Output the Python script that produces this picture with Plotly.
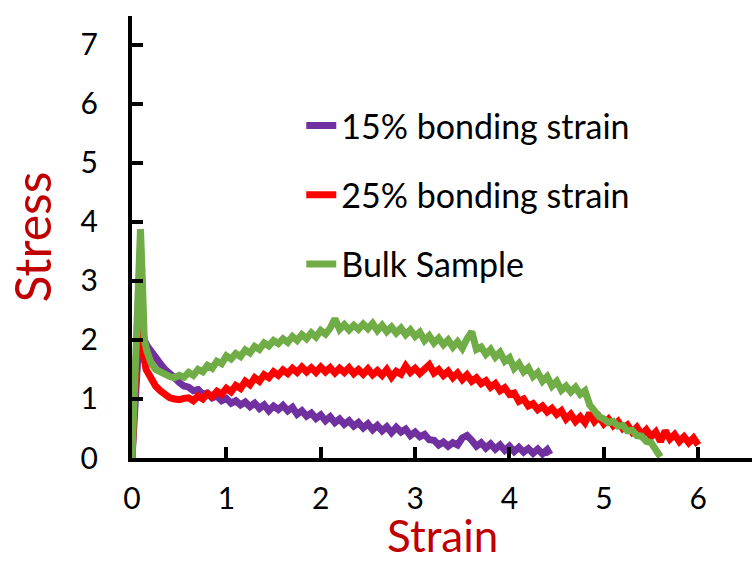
import plotly.graph_objects as go

# ---- data ----
purple_x = [0, 0.03, 0.06, 0.09, 0.11, 0.13, 0.16, 0.20, 0.25, 0.30, 0.35, 0.40, 0.45, 0.50, 0.55,
            0.60, 0.65, 0.70, 0.75, 0.80, 0.85, 0.90, 0.95, 1.00, 1.05, 1.10, 1.15, 1.20, 1.25, 1.30,
            1.35, 1.40, 1.45, 1.50, 1.55, 1.60, 1.65, 1.70, 1.75, 1.80, 1.85, 1.90, 1.95, 2.00, 2.05,
            2.10, 2.15, 2.20, 2.25, 2.30, 2.35, 2.40, 2.45, 2.50, 2.55, 2.60, 2.65, 2.70, 2.75, 2.80,
            2.85, 2.90, 2.95, 3.00, 3.05, 3.10, 3.15, 3.20, 3.25, 3.30, 3.35, 3.40, 3.45, 3.50, 3.55,
            3.60, 3.65, 3.70, 3.75, 3.80, 3.85, 3.90, 3.95, 4.00, 4.05, 4.10, 4.15, 4.20, 4.25, 4.30,
            4.35, 4.40, 4.43]
purple_y = [0, 1.0, 2.0, 2.5, 2.2, 2.0, 1.9, 1.8, 1.68, 1.6, 1.5, 1.44, 1.36, 1.28, 1.22,
            1.20, 1.14, 1.16, 1.08, 1.10, 1.02, 1.05, 0.97, 1.01, 0.93, 0.97, 0.90, 0.95, 0.87, 0.93,
            0.84, 0.90, 0.80, 0.88, 0.82, 0.89, 0.80, 0.86, 0.74, 0.80, 0.71, 0.76, 0.67, 0.73, 0.63,
            0.70, 0.60, 0.66, 0.57, 0.63, 0.54, 0.60, 0.51, 0.58, 0.48, 0.55, 0.46, 0.53, 0.43, 0.52,
            0.44, 0.49, 0.38, 0.44, 0.36, 0.40, 0.31, 0.30, 0.22, 0.27, 0.20, 0.26, 0.22, 0.34, 0.38,
            0.30, 0.20, 0.26, 0.17, 0.24, 0.15, 0.22, 0.13, 0.20, 0.11, 0.18, 0.10, 0.16, 0.08, 0.15,
            0.07, 0.14, 0.06]

red_x = [0, 0.03, 0.06, 0.08, 0.10, 0.12, 0.15, 0.20, 0.25, 0.30, 0.35, 0.40, 0.45, 0.50, 0.55,
         0.60, 0.65, 0.70, 0.75, 0.80, 0.85, 0.90, 0.95, 1.00, 1.05, 1.10, 1.15, 1.20, 1.25, 1.30,
         1.35, 1.40, 1.45, 1.50, 1.55, 1.60, 1.65, 1.70, 1.75, 1.80, 1.85, 1.90, 1.95, 2.00, 2.05,
         2.10, 2.15, 2.20, 2.25, 2.30, 2.35, 2.40, 2.45, 2.50, 2.55, 2.60, 2.65, 2.70, 2.75, 2.80,
         2.85, 2.90, 2.95, 3.00, 3.05, 3.10, 3.15, 3.20, 3.25, 3.30, 3.35, 3.40, 3.45, 3.50, 3.55,
         3.60, 3.65, 3.70, 3.75, 3.80, 3.85, 3.90, 3.95, 4.00, 4.05, 4.10, 4.15, 4.20, 4.25, 4.30,
         4.35, 4.40, 4.45, 4.50, 4.55, 4.60, 4.65, 4.70, 4.75, 4.80, 4.85, 4.90, 4.95, 5.00, 5.05,
         5.10, 5.15, 5.20, 5.25, 5.30, 5.35, 5.40, 5.45, 5.50, 5.55, 5.60, 5.65, 5.70, 5.75, 5.80,
         5.85, 5.90, 5.95, 6.00]
red_y = [0, 1.2, 2.6, 3.05, 2.6, 1.75, 1.5, 1.33, 1.22, 1.14, 1.07, 1.02, 1.0, 0.99, 1.01,
         1.02, 0.97, 1.05, 1.00, 1.09, 1.04, 1.13, 1.08, 1.18, 1.12, 1.23, 1.18, 1.30, 1.24, 1.36,
         1.30, 1.41, 1.36, 1.46, 1.40, 1.49, 1.43, 1.52, 1.45, 1.54, 1.46, 1.53, 1.45, 1.54, 1.46,
         1.53, 1.44, 1.52, 1.45, 1.53, 1.43, 1.50, 1.42, 1.51, 1.41, 1.48, 1.40, 1.50, 1.37, 1.47,
         1.42, 1.56, 1.45, 1.52, 1.43, 1.52, 1.58, 1.44, 1.50, 1.40, 1.47, 1.36, 1.44, 1.33, 1.41,
         1.30, 1.36, 1.26, 1.31, 1.20, 1.26, 1.14, 1.19, 1.08, 1.10, 0.96, 1.00, 0.88, 0.92, 0.82,
         0.88, 0.78, 0.84, 0.74, 0.80, 0.66, 0.74, 0.62, 0.70, 0.60, 0.76, 0.62, 0.70, 0.58, 0.66,
         0.55, 0.62, 0.50, 0.56, 0.44, 0.52, 0.40, 0.48, 0.36, 0.44, 0.28, 0.46, 0.32, 0.40, 0.28,
         0.36, 0.26, 0.34, 0.22]

green_x = [0, 0.03, 0.06, 0.09, 0.11, 0.13, 0.16, 0.20, 0.25, 0.30, 0.35, 0.40, 0.45, 0.50, 0.55,
           0.60, 0.65, 0.70, 0.75, 0.80, 0.85, 0.90, 0.95, 1.00, 1.05, 1.10, 1.15, 1.20, 1.25, 1.30,
           1.35, 1.40, 1.45, 1.50, 1.55, 1.60, 1.65, 1.70, 1.75, 1.80, 1.85, 1.90, 1.95, 2.00, 2.05,
           2.10, 2.15, 2.20, 2.25, 2.30, 2.35, 2.40, 2.45, 2.50, 2.55, 2.60, 2.65, 2.70, 2.75, 2.80,
           2.85, 2.90, 2.95, 3.00, 3.05, 3.10, 3.15, 3.20, 3.25, 3.30, 3.35, 3.40, 3.45, 3.50, 3.55,
           3.60, 3.65, 3.70, 3.75, 3.80, 3.85, 3.90, 3.95, 4.00, 4.05, 4.10, 4.15, 4.20, 4.25, 4.30,
           4.35, 4.40, 4.45, 4.50, 4.55, 4.60, 4.65, 4.70, 4.75, 4.80, 4.85, 4.90, 4.95, 5.00, 5.05,
           5.10, 5.15, 5.20, 5.25, 5.30, 5.35, 5.40, 5.45, 5.50, 5.55, 5.60]
green_y = [0, 1.6, 3.2, 3.88, 3.0, 2.0, 1.8, 1.62, 1.5, 1.45, 1.40, 1.38, 1.36, 1.40, 1.37,
           1.45, 1.40, 1.50, 1.46, 1.57, 1.52, 1.64, 1.60, 1.73, 1.68, 1.77, 1.72, 1.83, 1.78, 1.89,
           1.84, 1.95, 1.90, 1.99, 1.94, 2.02, 1.96, 2.06, 1.99, 2.09, 2.02, 2.12, 2.05, 2.16, 2.10,
           2.20, 2.36, 2.18, 2.26, 2.17, 2.25, 2.18, 2.27, 2.19, 2.28, 2.16, 2.25, 2.14, 2.22, 2.12,
           2.20, 2.09, 2.17, 2.06, 2.13, 1.99, 2.07, 1.95, 2.03, 1.92, 2.00, 1.88, 1.97, 1.86, 2.02,
           2.14, 1.84, 1.88, 1.76, 1.84, 1.71, 1.79, 1.64, 1.70, 1.52, 1.60, 1.46, 1.53, 1.38, 1.45,
           1.30, 1.38, 1.22, 1.30, 1.15, 1.22, 1.12, 1.20, 1.08, 1.14, 0.90, 0.80, 0.70, 0.66, 0.60,
           0.62, 0.54, 0.55, 0.46, 0.47, 0.38, 0.37, 0.28, 0.26, 0.15, 0.02]

names = ["15% bonding strain", "25% bonding strain", "Bulk Sample"]
colors = ["#7030A0", "#FF0000", "#70AD47"]
x_ticks = [0, 1, 2, 3, 4, 5, 6]
y_ticks = [0, 1, 2, 3, 4, 5, 6, 7]

FONT = "Lato, 'Open Sans', sans-serif"

fig = go.Figure()
for xs, ys, nm, c in zip([purple_x, red_x, green_x], [purple_y, red_y, green_y], names, colors):
    fig.add_trace(go.Scatter(x=xs, y=ys, mode="lines", name=nm, legendgroup=nm,
                             line=dict(color=c, width=7)))

axis_common = dict(showgrid=False, zeroline=False, showline=True, linecolor="black",
                   linewidth=4, ticks="inside", tickcolor="black", tickwidth=4, ticklen=11,
                   tickfont=dict(family=FONT, size=30, color="black"))

fig.update_xaxes(range=[0, 6.57], tickvals=x_ticks, ticklabelstandoff=11, **axis_common)
fig.update_yaxes(range=[0, 7.49], tickvals=y_ticks, ticklabelstandoff=24,
                 title=dict(text="Stress", font=dict(family=FONT, size=50, color="#C00000"),
                            standoff=14),
                 **axis_common)

fig.add_annotation(text="Strain", xref="paper", yref="paper", x=0.5, y=-0.174,
                   xanchor="center", yanchor="middle", showarrow=False,
                   font=dict(family=FONT, size=44, color="#C00000"))

fig.update_layout(
    width=752, height=561,
    margin=dict(l=132, r=0, t=16, b=103),
    plot_bgcolor="white", paper_bgcolor="white",
    showlegend=True,
    legend=dict(x=0.273, y=0.817, xanchor="left", yanchor="top",
                font=dict(family=FONT, size=34, color="black"),
                bgcolor="rgba(0,0,0,0)", tracegroupgap=22),
)

fig.write_html("out.html")
